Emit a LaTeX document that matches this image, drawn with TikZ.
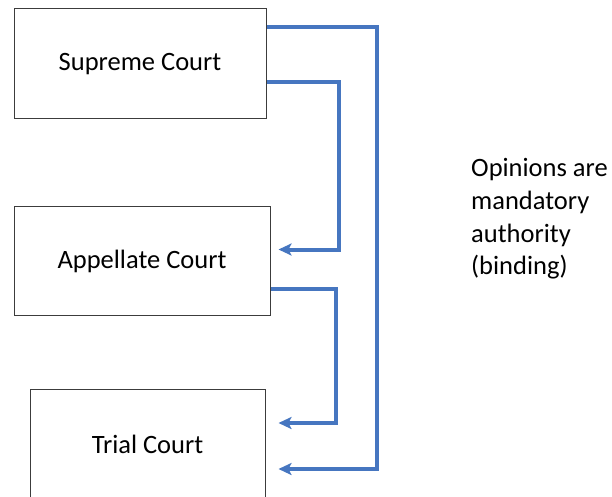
\documentclass[tikz,border=0pt]{standalone}
\usepackage{fontspec}
\setmainfont{Carlito}
\usetikzlibrary{arrows.meta}
\definecolor{conncol}{RGB}{70,118,192}
\definecolor{boxcol}{RGB}{60,60,60}
\begin{document}
\begin{tikzpicture}[x=1pt,y=-1pt,
  courtbox/.style={draw=boxcol,line width=1pt,inner sep=0pt,font=\fontsize{26.5}{31}\selectfont,text=black},
  conn/.style={draw=conncol,line width=4pt,-{Stealth[length=13pt,width=12pt,inset=3pt]}},
  note/.style={font=\fontsize{26.5}{32.7}\selectfont,align=left,anchor=west,inner sep=0pt,text=black}]
\useasboundingbox (0,0) rectangle (612,497);
\clip (0,0) rectangle (612,497);
\node[courtbox,minimum width=252pt,minimum height=110pt] (sc) at (140,64) {Supreme Court};
\node[courtbox,minimum width=256pt,minimum height=109pt] (ac) at (142,261) {Appellate Court};
\node[courtbox,minimum width=235pt,minimum height=110pt] (tc) at (147.5,444) {Trial Court};
\node[note] (op) at (471,219) {Opinions are\\mandatory\\authority\\(binding)};
\draw[conn] ([yshift=-19pt]sc.north east) -- ++(110pt,0pt) |- ([xshift=13pt,yshift=-25pt]tc.east);
\draw[conn] ([yshift=-18pt]sc.east) -- ++(72pt,0pt) |- ([xshift=8pt,yshift=11.5pt]ac.east);
\draw[conn] ([yshift=-27.5pt]ac.east) -- ++(65pt,0pt) |- ([xshift=13pt,yshift=21pt]tc.east);
\end{tikzpicture}
\end{document}
